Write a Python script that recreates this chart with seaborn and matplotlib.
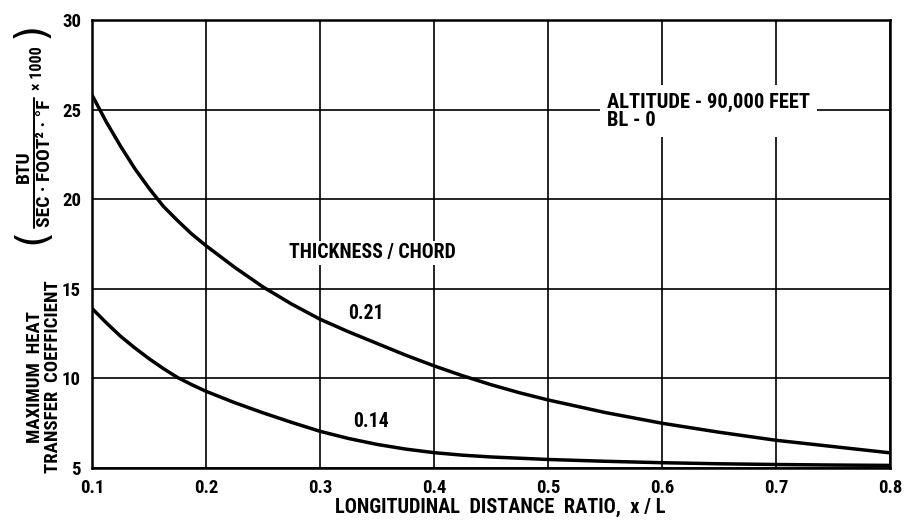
import numpy as np
import pandas as pd
import matplotlib
matplotlib.use("Agg")
import matplotlib.pyplot as plt
from matplotlib import font_manager
from matplotlib.font_manager import FontProperties
from matplotlib.lines import Line2D
import seaborn as sns

# values
x_ratio = [0.10, 0.1125, 0.125, 0.1375, 0.15, 0.1625, 0.175, 0.1875, 0.20,
           0.225, 0.25, 0.275, 0.30, 0.325, 0.35, 0.375, 0.40, 0.425, 0.45,
           0.475, 0.50, 0.55, 0.60, 0.65, 0.70, 0.75, 0.80]
coef_021 = [25.8, 24.3, 22.95, 21.7, 20.6, 19.6, 18.8, 18.05, 17.4,
            16.2, 15.1, 14.15, 13.3, 12.6, 11.95, 11.3, 10.7, 10.15, 9.65,
            9.2, 8.8, 8.1, 7.5, 7.0, 6.55, 6.2, 5.85]
coef_014 = [13.9, 13.1, 12.35, 11.7, 11.1, 10.55, 10.05, 9.65, 9.28,
            8.65, 8.08, 7.55, 7.05, 6.65, 6.32, 6.06, 5.86, 5.72, 5.62,
            5.55, 5.48, 5.38, 5.3, 5.24, 5.2, 5.17, 5.15]
x_ticks = [0.1, 0.2, 0.3, 0.4, 0.5, 0.6, 0.7, 0.8]
y_ticks = [5, 10, 15, 20, 25, 30]

df = pd.DataFrame({
    "x": x_ratio * 2,
    "coef": coef_021 + coef_014,
    "tc": ["0.21"] * len(x_ratio) + ["0.14"] * len(x_ratio),
})


def pick_font():
    """Find a bold condensed face, fall back to Liberation Sans Bold."""
    fl = font_manager.fontManager.ttflist

    def wt(f):
        return f.weight if isinstance(f.weight, int) else {"bold": 700}.get(f.weight, 400)

    wanted = [("Roboto Condensed", None), ("Liberation Sans Narrow", None),
              ("Open Sans Condensed", None), ("Noto Sans", "condensed"),
              ("Open Sans", "condensed"), ("DejaVu Sans", "condensed"),
              ("Liberation Sans", None)]
    for name, stretch in wanted:
        hits = [f for f in fl if f.name == name and f.style == "normal"
                and wt(f) >= 600 and (stretch is None or f.stretch == stretch)]
        if hits:
            hits.sort(key=lambda f: abs(wt(f) - 700))
            return hits[0].fname
    return None


font_path = pick_font()


def fp(size):
    if font_path:
        return FontProperties(fname=font_path, size=size)
    return FontProperties(family="DejaVu Sans", weight="bold", size=size)


sns.set_style("white")
plt.rcParams["text.color"] = "black"
plt.rcParams["xtick.color"] = "black"
plt.rcParams["ytick.color"] = "black"

fig = plt.figure(figsize=(9.12, 5.23), dpi=100)
ax = fig.add_axes([0.101, 0.105, 0.875, 0.857])

sns.lineplot(data=df, x="x", y="coef", hue="tc", palette=["black", "black"],
             linewidth=2.5, legend=False, ax=ax, zorder=3)

ax.set_xlim(0.1, 0.8)
ax.set_ylim(5, 30)
ax.set_xticks(x_ticks)
ax.set_yticks(y_ticks)
ax.set_xticklabels([f"{t:.1f}" for t in x_ticks])
ax.set_yticklabels([str(t) for t in y_ticks])
for lbl in ax.get_xticklabels() + ax.get_yticklabels():
    lbl.set_fontproperties(fp(13.5))
ax.tick_params(length=0, pad=8)
ax.grid(True, color="black", linewidth=1.2)
for s in ax.spines.values():
    s.set_color("black")
    s.set_linewidth(1.8)
ax.set_xlabel("")
ax.set_ylabel("")

box = dict(facecolor="white", edgecolor="none", pad=2)
ax.text(0.346, 17.0, "THICKNESS / CHORD", ha="center", va="center",
        fontproperties=fp(14.2), bbox=box, zorder=4)
ax.text(0.34, 13.6, "0.21", ha="center", va="center",
        fontproperties=fp(14.2), bbox=box, zorder=4)
ax.text(0.345, 7.6, "0.14", ha="center", va="center",
        fontproperties=fp(14.2), bbox=box, zorder=4)
ax.text(0.552, 24.9, "ALTITUDE - 90,000 FEET\nBL - 0", ha="left", va="center",
        fontproperties=fp(14.8), linespacing=0.95,
        bbox=dict(facecolor="white", edgecolor="none", pad=5), zorder=4)

# axis titles
fig.text(0.548, 0.03, "LONGITUDINAL  DISTANCE  RATIO,  x / L", ha="center",
         va="center", fontproperties=fp(14.7))
fig.text(0.048, 0.279, "MAXIMUM  HEAT\nTRANSFER  COEFFICIENT", rotation=90,
         ha="center", va="center", fontproperties=fp(13.5), linespacing=1.0)

# unit fraction (BTU / SEC-FOOT2-F x 1000) drawn sideways
def fxy(px, py):
    return px / 912, 1 - py / 523

fig.text(*fxy(24, 167), "BTU", rotation=90, ha="center", va="center",
         fontproperties=fp(14))
fig.text(*fxy(45, 163), "SEC · FOOT² · °F", rotation=90, ha="center",
         va="center", fontproperties=fp(14))
bx0, by0 = fxy(34, 228)
bx1, by1 = fxy(34, 98)
fig.add_artist(Line2D([bx0, bx1], [by0, by1], color="black", linewidth=1.4))
fig.text(*fxy(37, 68), "× 1000", rotation=90, ha="center", va="center",
         fontproperties=fp(11.5))
paren = FontProperties(family="DejaVu Sans", size=30)
fig.text(*fxy(32, 236), "(", rotation=90, ha="center", va="center",
         fontproperties=paren)
fig.text(*fxy(32, 30), ")", rotation=90, ha="center", va="center",
         fontproperties=paren)

fig.savefig("out.png", dpi=100)
